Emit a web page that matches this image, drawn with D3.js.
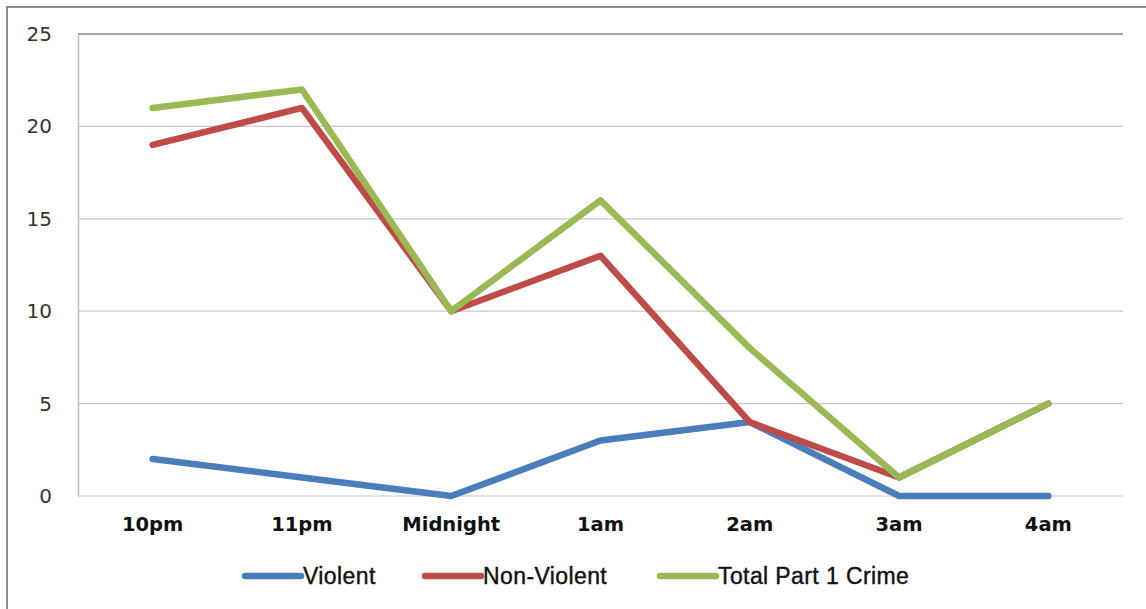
<!DOCTYPE html>
<html>
<head>
<meta charset="utf-8">
<script src="https://cdn.jsdelivr.net/npm/d3@7"></script>
<style>
  body { margin: 0; background: #fff; }
</style>
</head>
<body>
<svg width="1146" height="609"></svg>
<script>
// data
var hours = ["10pm", "11pm", "Midnight", "1am", "2am", "3am", "4am"];
var violent = [2, 1, 0, 3, 4, 0, 0];
var nonViolent = [19, 21, 10, 13, 4, 1, 5];
var totalCrime = [21, 22, 10, 16, 8, 1, 5];
var seriesNames = ["Violent", "Non-Violent", "Total Part 1 Crime"];
var seriesColors = ["#4a7ebb", "#be4b48", "#98b954"];
var yTicks = [0, 5, 10, 15, 20, 25];

var svg = d3.select("svg");

// outer chart border
svg.append("rect")
    .attr("x", 7).attr("y", 7)
    .attr("width", 1150).attr("height", 610)
    .attr("fill", "none")
    .attr("stroke", "#8c8c8c")
    .attr("stroke-width", 2);

var plotLeft = 78, plotRight = 1123, plotTop = 34, plotBottom = 496;

var x = d3.scaleBand().domain(hours).range([plotLeft, plotRight]);
var y = d3.scaleLinear().domain([0, 25]).range([plotBottom, plotTop]);

// gridlines
svg.append("g")
  .selectAll("line")
  .data(yTicks)
  .enter()
  .append("line")
    .attr("x1", plotLeft).attr("x2", plotRight)
    .attr("y1", function(d){ return y(d) })
    .attr("y2", function(d){ return y(d) })
    .attr("stroke", function(d){ return d == 25 ? "#a6a6a6" : "#c8c8c8" })
    .attr("stroke-width", function(d){ return d == 25 ? 2 : 1.2 });

// y axis
var yAxis = svg.append("g")
    .attr("transform", "translate(" + plotLeft + ",0)")
    .call(d3.axisLeft(y).tickValues(yTicks).tickSize(0).tickPadding(26));
yAxis.select(".domain").attr("stroke", "#bdbdbd").attr("stroke-width", 1.5);
yAxis.selectAll("text")
    .style("font-family", "DejaVu Sans, Verdana, sans-serif")
    .style("font-size", "20px")
    .attr("fill", "#333");

// x axis
var xAxis = svg.append("g")
    .attr("transform", "translate(0," + plotBottom + ")")
    .call(d3.axisBottom(x).tickSize(0).tickPadding(21));
xAxis.select(".domain").remove();
xAxis.selectAll("text")
    .style("font-family", "DejaVu Sans, Verdana, sans-serif")
    .style("font-size", "19.5px")
    .style("font-weight", "bold")
    .attr("fill", "#111");

// lines
var series = [violent, nonViolent, totalCrime];
var line = d3.line()
    .x(function(d, i){ return x(hours[i]) + x.bandwidth() / 2 })
    .y(function(d){ return y(d) });

svg.append("g")
  .selectAll("path")
  .data(series)
  .enter()
  .append("path")
    .attr("d", line)
    .attr("fill", "none")
    .attr("stroke", function(d, i){ return seriesColors[i] })
    .attr("stroke-width", 6.5)
    .attr("stroke-linecap", "round")
    .attr("stroke-linejoin", "round");

// legend
var legendX = [245, 425, 660];
var legend = svg.append("g")
  .selectAll("g")
  .data(seriesNames)
  .enter()
  .append("g")
    .attr("transform", function(d, i){ return "translate(" + legendX[i] + ",576)" });

legend.append("line")
    .attr("x1", 0).attr("x2", 56)
    .attr("stroke", function(d, i){ return seriesColors[i] })
    .attr("stroke-width", 6.5)
    .attr("stroke-linecap", "round");

legend.append("text")
    .attr("x", 58)
    .attr("dy", "0.35em")
    .style("font-family", "Liberation Sans, Arial, sans-serif")
    .style("font-size", "23px")
    .style("letter-spacing", "0.4px")
    .style("stroke", "#111")
    .style("stroke-width", "0.4px")
    .attr("fill", "#111")
    .text(function(d){ return d });
</script>
</body>
</html>
